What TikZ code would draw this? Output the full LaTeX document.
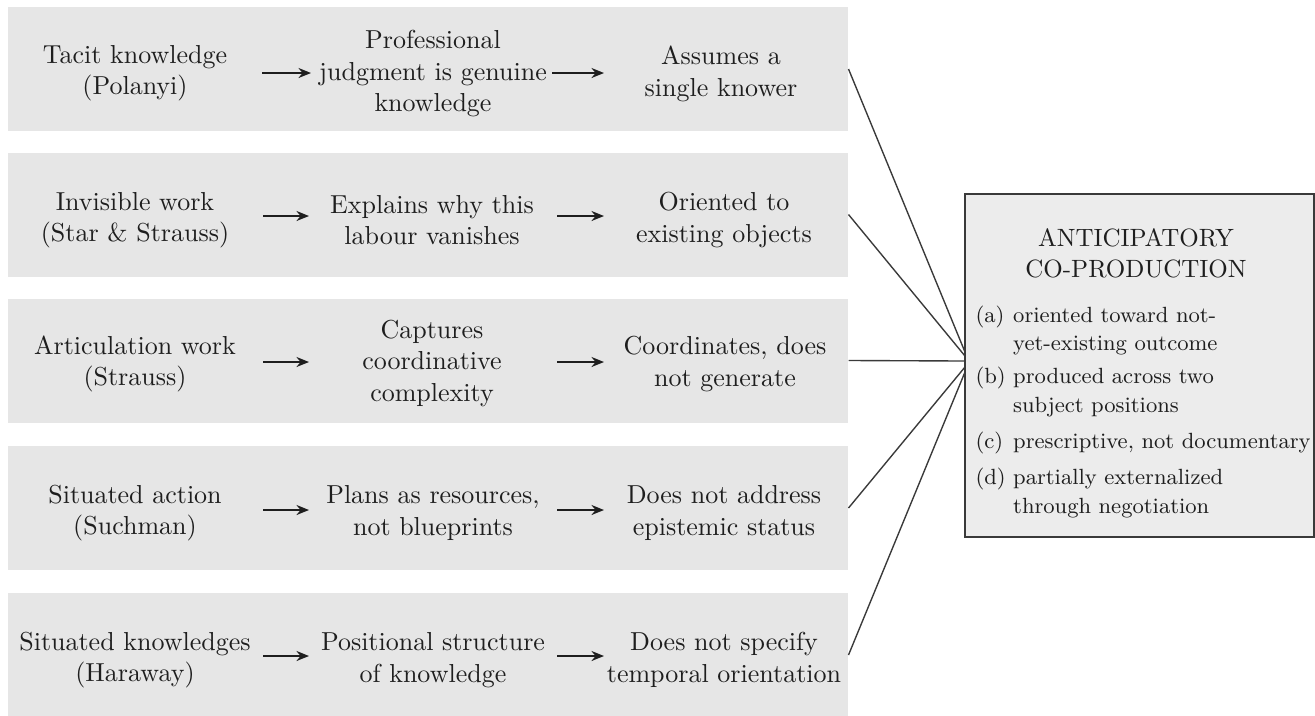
\documentclass[tikz,border=0pt]{standalone}
\usetikzlibrary{arrows.meta}
\definecolor{bandgray}{HTML}{E6E6E6}
\definecolor{boxgray}{HTML}{ECECEC}
\definecolor{ink}{HTML}{1E1E1E}
\definecolor{edgegray}{HTML}{3A3A3A}
\begin{document}
\begin{tikzpicture}[x=0.4pt,y=-0.4pt,
  band/.style={fill=bandgray, draw=none, minimum width=336pt, minimum height=49.6pt, inner sep=0pt},
  lbl/.style={align=center, text=ink, font=\fontsize{10.4}{12.6}\selectfont, inner sep=0pt},
  flow/.style={-{Stealth[length=5pt,width=4pt]}, line width=0.75pt, draw=ink},
  link/.style={draw=edgegray, line width=0.55pt},
  mainbox/.style={draw=edgegray, fill=boxgray, line width=0.8pt, minimum width=139.6pt, minimum height=137.2pt, inner sep=0pt},
  titletext/.style={align=center, text=ink, font=\fontsize{10}{12.4}\selectfont, inner sep=0pt},
  listtext/.style={text=ink, font=\fontsize{8.8}{11.4}\selectfont, inner sep=0pt}
]
\fill[white] (0,0) rectangle (1315,715);
\useasboundingbox (0,0) rectangle (1315,715);

% bands
\node[band] (b1) at (428,69) {};
\node[band] (b2) at (428,214.5) {};
\node[band] (b3) at (428,360.5) {};
\node[band] (b4) at (428,508) {};
\node[band] (b5) at (428,655) {};

% row 1
\node[lbl] (t11) at (135,73) {Tacit knowledge\\(Polanyi)};
\node[lbl] (t12) at (433,74) {Professional\\judgment is genuine\\knowledge};
\node[lbl] (t13) at (721,74) {Assumes a\\single knower};
\coordinate (a11) at (262,73); \coordinate (a12) at (311,73);
\coordinate (a13) at (552,73); \coordinate (a14) at (604,73);
\draw[flow] (a11) -- (a12);
\draw[flow] (a13) -- (a14);

% row 2
\node[lbl] (t21) at (135,220) {Invisible work\\(Star \& Strauss)};
\node[lbl] (t22) at (432,220) {Explains why this\\labour vanishes};
\node[lbl] (t23) at (724,220) {Oriented to\\existing objects};
\coordinate (a21) at (263,216); \coordinate (a22) at (309,216);
\coordinate (a23) at (557,216); \coordinate (a24) at (604,216);
\draw[flow] (a21) -- (a22);
\draw[flow] (a23) -- (a24);

% row 3
\node[lbl] (t31) at (135,364) {Articulation work\\(Strauss)};
\node[lbl] (t32) at (432,363) {Captures\\coordinative\\complexity};
\node[lbl] (t33) at (725,364) {Coordinates, does\\not generate};
\coordinate (a31) at (263,362); \coordinate (a32) at (309,362);
\coordinate (a33) at (557,362); \coordinate (a34) at (604,362);
\draw[flow] (a31) -- (a32);
\draw[flow] (a33) -- (a34);

% row 4
\node[lbl] (t41) at (135,513) {Situated action\\(Suchman)};
\node[lbl] (t42) at (433,513) {Plans as resources,\\not blueprints};
\node[lbl] (t43) at (724,513) {Does not address\\epistemic status};
\coordinate (a41) at (263,510); \coordinate (a42) at (309,510);
\coordinate (a43) at (557,510); \coordinate (a44) at (604,510);
\draw[flow] (a41) -- (a42);
\draw[flow] (a43) -- (a44);

% row 5
\node[lbl] (t51) at (135,660) {Situated knowledges\\(Haraway)};
\node[lbl] (t52) at (433,660) {Positional structure\\of knowledge};
\node[lbl] (t53) at (724,660) {Does not specify\\temporal orientation};
\coordinate (a51) at (263,656); \coordinate (a52) at (309,656);
\coordinate (a53) at (557,656); \coordinate (a54) at (604,656);
\draw[flow] (a51) -- (a52);
\draw[flow] (a53) -- (a54);

% main box
\node[mainbox] (box) at (1139.5,365.5) {};
\node[titletext] (title) at (1136,253) {ANTICIPATORY\\CO-PRODUCTION};
\node[listtext, anchor=north west] (list) at (975,302) {%
\begin{tabular}{@{}l@{\ }l@{}}
(a) & oriented toward not-\\
    & yet-existing outcome\\[1.8pt]
(b) & produced across two\\
    & subject positions\\[3pt]
(c) & prescriptive, not documentary\\[3.2pt]
(d) & partially externalized\\
    & through negotiation
\end{tabular}};

% connectors
\coordinate (e1) at (965,352);
\coordinate (e2) at (965,356);
\coordinate (e3) at (965,361);
\coordinate (e4) at (965,367);
\coordinate (e5) at (965,372);
\draw[link] (b1.east) -- (e1);
\draw[link] (b2.east) -- (e2);
\draw[link] (b3.east) -- (e3);
\draw[link] (b4.east) -- (e4);
\draw[link] (b5.east) -- (e5);
\end{tikzpicture}
\end{document}
